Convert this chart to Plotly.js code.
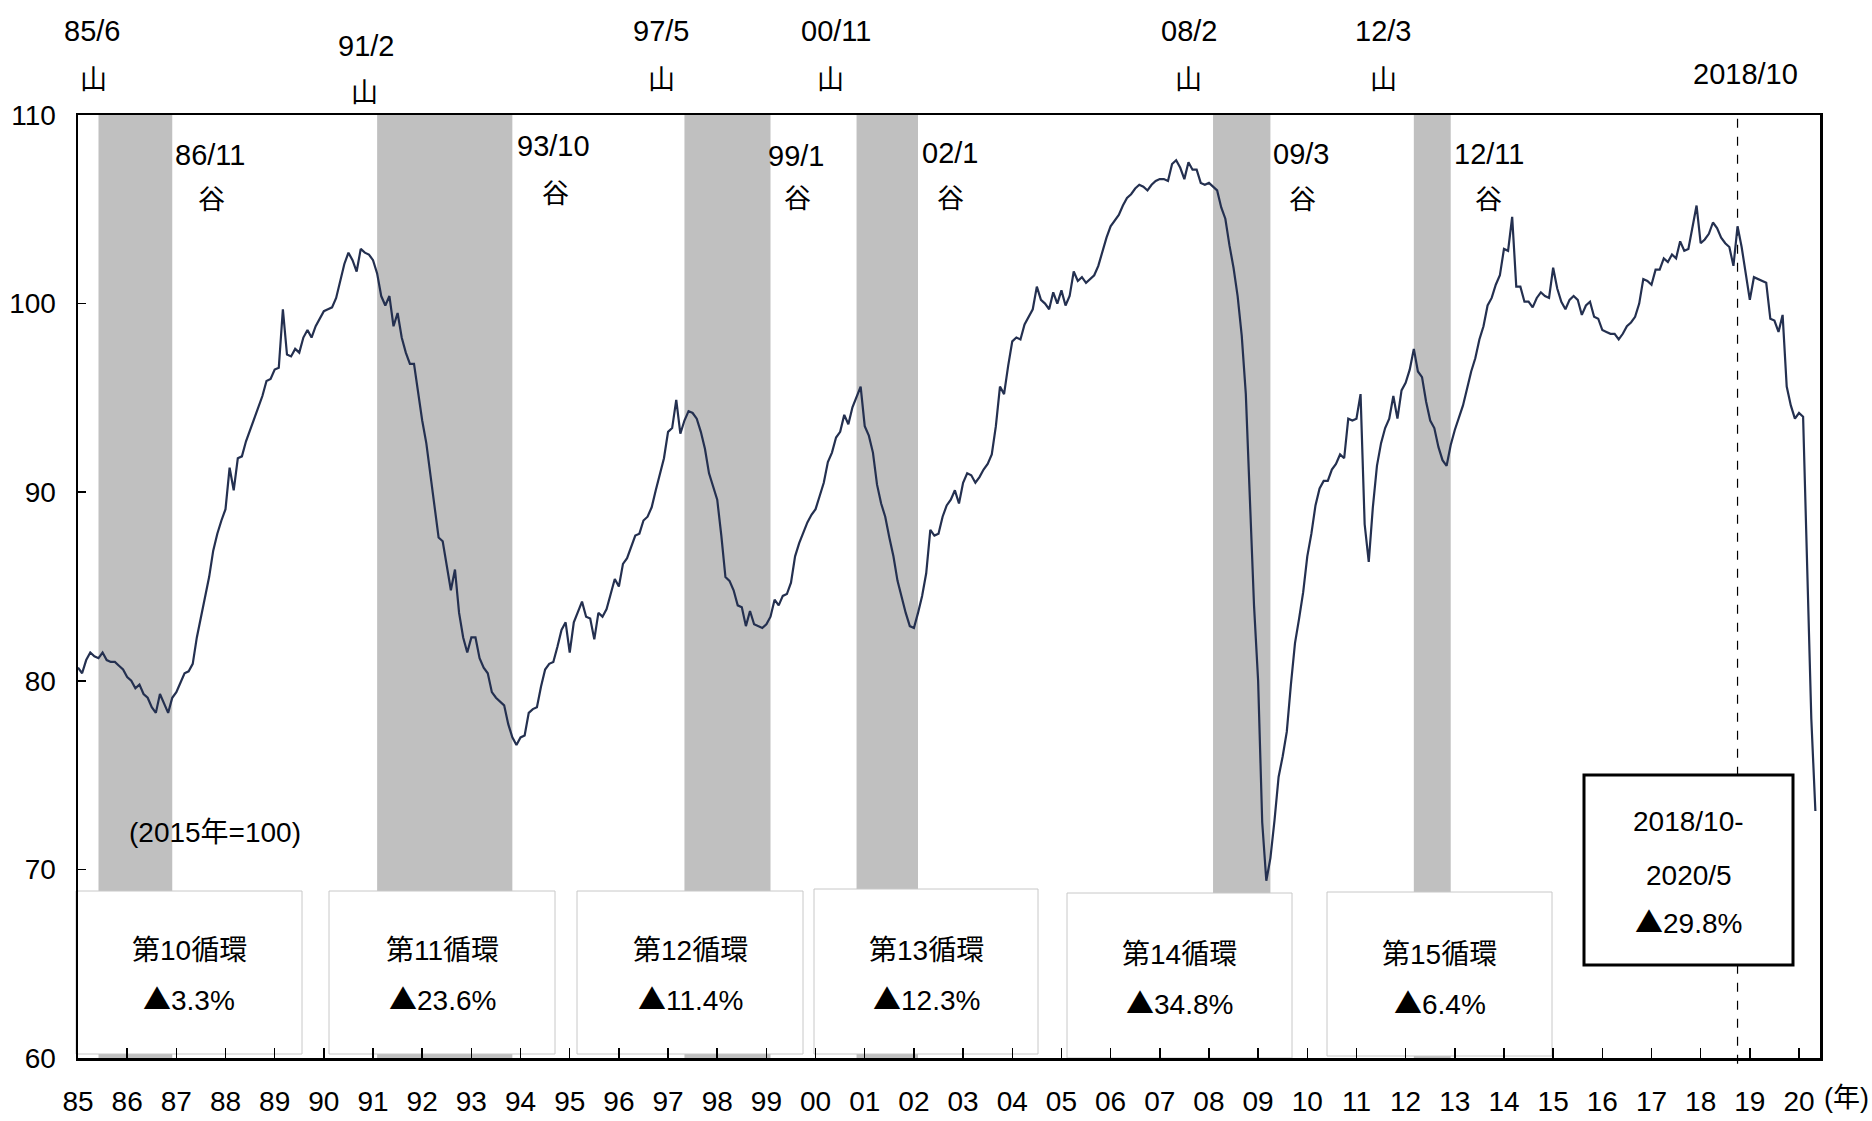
<!DOCTYPE html>
<html><head><meta charset="utf-8">
<script src="https://cdn.plot.ly/plotly-3.0.1.min.js"></script>
<style>html,body{margin:0;padding:0;background:#fff;}#chart{width:1872px;height:1121px;}</style>
</head><body><div id="chart"></div>
<script>
// ---------------- DATA (monthly index, 2015=100) ----------------
const startYear = 1985;
const iip1985_1989 = [
  80.7, 80.4, 81.1, 81.5, 81.3, 81.2, 81.5, 81.1, 81.0, 81.0, 80.8, 80.6,
  80.2, 80.0, 79.6, 79.8, 79.3, 79.1, 78.6, 78.3, 79.3, 78.8, 78.3, 79.1,
  79.4, 79.9, 80.4, 80.5, 80.9, 82.3, 83.4, 84.4, 85.5, 86.9, 87.8, 88.5,
  89.1, 91.3, 90.1, 91.8, 91.9, 92.7, 93.3, 93.8, 94.4, 95.1, 95.9, 96.0,
  96.5, 96.6, 99.7, 97.3, 97.2, 97.6, 97.4, 98.2, 98.6, 98.2, 98.8, 99.2
];
const iip1990_1994 = [
  99.6, 99.7, 99.8, 100.3, 101.2, 102.1, 102.7, 102.3, 101.7, 102.9, 102.7, 102.6,
  102.3, 101.6, 100.4, 99.9, 100.4, 98.8, 99.5, 98.2, 97.4, 96.8, 96.8, 95.2,
  93.8, 92.6, 91.0, 89.2, 87.6, 87.4, 86.2, 84.8, 85.9, 83.6, 82.3, 81.5,
  82.3, 82.3, 81.2, 80.7, 80.4, 79.4, 79.1, 78.9, 78.7, 77.7, 77.0, 76.6,
  77.0, 77.1, 78.3, 78.5, 78.6, 79.7, 80.6, 80.9, 81.0, 81.8, 82.7, 83.1
];
const iip1995_1999 = [
  81.5, 83.1, 83.6, 84.2, 83.4, 83.3, 82.2, 83.6, 83.4, 83.8, 84.6, 85.4,
  85.0, 86.2, 86.5, 87.1, 87.7, 87.8, 88.5, 88.7, 89.2, 90.1, 90.9, 91.8,
  93.2, 93.4, 94.9, 93.1, 93.8, 94.3, 94.2, 93.9, 93.2, 92.3, 91.0, 90.3,
  89.6, 87.7, 85.5, 85.3, 84.8, 84.0, 83.9, 82.9, 83.7, 83.0, 82.9, 82.8,
  83.0, 83.4, 84.3, 84.0, 84.5, 84.6, 85.2, 86.6, 87.3, 87.9, 88.4, 88.8
];
const iip2000_2004 = [
  89.1, 89.8, 90.5, 91.6, 92.1, 92.9, 93.2, 94.1, 93.6, 94.5, 95.1, 95.6,
  93.5, 93.0, 92.1, 90.4, 89.4, 88.7, 87.6, 86.6, 85.3, 84.4, 83.6, 82.9,
  82.8, 83.6, 84.5, 85.7, 88.0, 87.7, 87.8, 88.7, 89.3, 89.6, 90.1, 89.4,
  90.5, 91.0, 90.9, 90.5, 90.8, 91.2, 91.5, 92.0, 93.5, 95.6, 95.2, 96.7,
  98.0, 98.2, 98.1, 98.9, 99.3, 99.7, 100.9, 100.2, 100.0, 99.7, 100.6, 100.0
];
const iip2005_2009 = [
  100.7, 99.9, 100.4, 101.7, 101.2, 101.4, 101.1, 101.3, 101.5, 102.0, 102.8, 103.5,
  104.1, 104.4, 104.7, 105.2, 105.6, 105.8, 106.1, 106.3, 106.2, 106.0, 106.3, 106.5,
  106.6, 106.6, 106.5, 107.4, 107.6, 107.2, 106.6, 107.5, 107.1, 107.1, 106.4, 106.3,
  106.4, 106.2, 106.0, 105.1, 104.5, 103.1, 101.9, 100.4, 98.3, 95.2, 89.9, 84.0,
  80.0, 72.5, 69.4, 70.6, 72.6, 74.9, 76.0, 77.3, 79.8, 82.0, 83.3, 84.7
];
const iip2010_2014 = [
  86.6, 87.8, 89.3, 90.2, 90.6, 90.6, 91.2, 91.5, 92.0, 91.8, 93.9, 93.8,
  93.9, 95.2, 88.3, 86.3, 89.2, 91.4, 92.6, 93.4, 93.9, 95.1, 93.9, 95.4,
  95.8, 96.5, 97.6, 96.4, 96.1, 94.8, 93.8, 93.4, 92.4, 91.7, 91.4, 92.5,
  93.3, 93.9, 94.6, 95.5, 96.4, 97.1, 98.1, 98.8, 99.9, 100.3, 101.0, 101.5,
  102.9, 102.8, 104.6, 100.9, 100.9, 100.1, 100.1, 99.8, 100.3, 100.6, 100.4, 100.3
];
const iip2015_2020 = [
  101.9, 100.8, 100.1, 99.7, 100.2, 100.4, 100.2, 99.4, 99.9, 100.1, 99.3, 99.2,
  98.6, 98.5, 98.4, 98.4, 98.1, 98.4, 98.8, 99.0, 99.3, 100.0, 101.3, 101.2,
  101.0, 101.8, 101.8, 102.4, 102.2, 102.6, 102.4, 103.3, 102.8, 102.9, 104.0, 105.2,
  103.2, 103.4, 103.7, 104.3, 104.0, 103.5, 103.2, 103.0, 102.0, 104.1, 103.0, 101.5,
  100.2, 101.4, 101.3, 101.2, 101.1, 99.2, 99.1, 98.5, 99.4, 95.6, 94.6, 93.9,
  94.2, 94.0, 86.5, 78.0, 73.1
];

const yearTickLabels = ['85','86','87','88','89','90','91','92','93','94','95','96','97','98','99',
  '00','01','02','03','04','05','06','07','08','09','10','11','12','13','14','15','16','17','18','19','20'];
const yTickValues = [60, 70, 80, 90, 100, 110];

const peakLabels   = ['85/6', '91/2', '97/5', '00/11', '08/2', '12/3'];
const troughLabels = ['86/11', '93/10', '99/1', '02/1', '09/3', '12/11'];
const cycleNames    = ['第10循環', '第11循環', '第12循環', '第13循環', '第14循環', '第15循環'];
const cycleDeclines = ['▲3.3%', '▲23.6%', '▲11.4%', '▲12.3%', '▲34.8%', '▲6.4%'];
const latestPeakLabel = '2018/10';
const latestBoxLines = ['2018/10-', '2020/5', '▲29.8%'];
const baseNote = '(2015年=100)';
const yearUnit = '(年)';

// ---------------- LAYOUT HELPERS ----------------
const PL = 78, PR = 1820, PT = 115, PB = 1058;   // plot area in page pixels
const px = v => (v - PL) / (PR - PL);
const py = v => (PB - v) / (PB - PT);
const toYear = s => { const [a, b] = s.split('/').map(Number); const y = a < 100 ? (a < 50 ? 2000 + a : 1900 + a) : a; return y + (b - 1) / 12; };

const FONT = 'Liberation Sans, Arial, Noto Sans CJK JP, sans-serif';
// draw the triangle mark with the CJK font (full-size glyph, as in the original)
const tri = s => s.replace('▲', '<span style="font-family:Noto Sans CJK JP">▲</span>');

const values = [].concat(iip1985_1989, iip1990_1994, iip1995_1999, iip2000_2004, iip2005_2009, iip2010_2014, iip2015_2020);
const xs = values.map((_, i) => startYear + i / 12);
const yearTicks = yearTickLabels.map((_, i) => startYear + i);

const shapes = [];
peakLabels.forEach((p, i) => {
  shapes.push({type: 'rect', xref: 'x', yref: 'paper', x0: toYear(p), x1: toYear(troughLabels[i]) + 1 / 12,
    y0: 0, y1: 1, fillcolor: '#c0c0c0', line: {width: 0}, layer: 'below'});
});
shapes.push({type: 'line', xref: 'x', yref: 'paper', x0: toYear(latestPeakLabel), x1: toYear(latestPeakLabel),
  y0: -0.006, y1: 1, line: {color: '#000', width: 1.2, dash: 'dash'}, layer: 'below'});

const cycleBoxes = [[76, 302, 891, 1054], [329, 555, 891, 1054], [577, 803, 891, 1054],
                    [814, 1038, 889, 1054], [1067, 1292, 893, 1058], [1327, 1552, 892, 1056]];
const cycleTextY = [[950, 998], [950, 998], [950, 998], [950, 998], [954, 1002], [954, 1002]];
cycleBoxes.forEach(b => {
  shapes.push({type: 'rect', xref: 'paper', yref: 'paper', x0: px(b[0]), x1: px(b[1]), y0: py(b[3]), y1: py(b[2]),
    fillcolor: '#ffffff', line: {color: '#c8c8c8', width: 1}, layer: 'below'});
});
const latestBox = [1584, 1793, 775, 965];
shapes.push({type: 'rect', xref: 'paper', yref: 'paper', x0: px(latestBox[0]), x1: px(latestBox[1]),
  y0: py(latestBox[3]), y1: py(latestBox[2]), fillcolor: '#ffffff', line: {color: '#000', width: 3}, layer: 'above'});

const ann = [];
const addText = (text, x, y, size) => ann.push({text, xref: 'paper', yref: 'paper', x: px(x), y: py(y),
  xanchor: 'center', yanchor: 'middle', showarrow: false, font: {family: FONT, size, color: '#000'}});

const peakNumPos   = [[92, 31], [366, 46], [661, 31], [836, 31], [1189, 31], [1383, 31]];
const peakKanjiPos = [[93, 80], [364, 93], [661, 80], [830, 80], [1188, 80], [1383, 80]];
const troughNumPos   = [[210, 155], [553, 146], [796, 156], [950, 153], [1301, 154], [1489, 154]];
const troughKanjiPos = [[211, 200], [555, 194], [797, 199], [950, 199], [1302, 200], [1488, 200]];
peakLabels.forEach((t, i) => { addText(t, peakNumPos[i][0], peakNumPos[i][1], 29); addText('山', peakKanjiPos[i][0], peakKanjiPos[i][1], 27); });
troughLabels.forEach((t, i) => { addText(t, troughNumPos[i][0], troughNumPos[i][1], 29); addText('谷', troughKanjiPos[i][0], troughKanjiPos[i][1], 27); });
addText(latestPeakLabel, 1745, 74, 29);
cycleNames.forEach((t, i) => {
  const cx = (cycleBoxes[i][0] + cycleBoxes[i][1]) / 2;
  addText(t, cx, cycleTextY[i][0], 28);
  addText(tri(cycleDeclines[i]), cx, cycleTextY[i][1], 28);
});
const latestLineY = [821, 875, 921];
latestBoxLines.forEach((t, i) => addText(tri(t), (latestBox[0] + latestBox[1]) / 2, latestLineY[i], 28));
addText(baseNote, 215, 832, 28);
addText(yearUnit, 1846, 1098, 27);

const trace = {x: xs, y: values, type: 'scatter', mode: 'lines', line: {color: '#243050', width: 2.2}, hoverinfo: 'skip'};

const layout = {
  width: 1872, height: 1121,
  margin: {l: PL, r: 1872 - PR, t: PT, b: 1121 - PB},
  paper_bgcolor: '#ffffff', plot_bgcolor: '#ffffff',
  showlegend: false,
  font: {family: FONT, size: 28, color: '#000'},
  xaxis: {range: [startYear, 2020.427], tickmode: 'array', tickvals: yearTicks, ticktext: yearTickLabels,
    ticks: 'inside', ticklen: 10, tickwidth: 1.5, tickcolor: '#000',
    showline: true, linecolor: '#000', linewidth: 2.5, mirror: true, showgrid: false, zeroline: false,
    tickfont: {family: FONT, size: 28, color: '#000'}, ticklabelstandoff: 17},
  yaxis: {range: [60, 110], tickmode: 'array', tickvals: yTickValues,
    ticks: 'inside', ticklen: 8, tickwidth: 1.5, tickcolor: '#000',
    showline: true, linecolor: '#000', linewidth: 2.5, mirror: true, showgrid: false, zeroline: false,
    tickfont: {family: FONT, size: 28, color: '#000'}, ticklabelstandoff: 14},
  shapes, annotations: ann
};

Plotly.newPlot('chart', [trace], layout, {staticPlot: true, displayModeBar: false});
</script>
</body></html>
